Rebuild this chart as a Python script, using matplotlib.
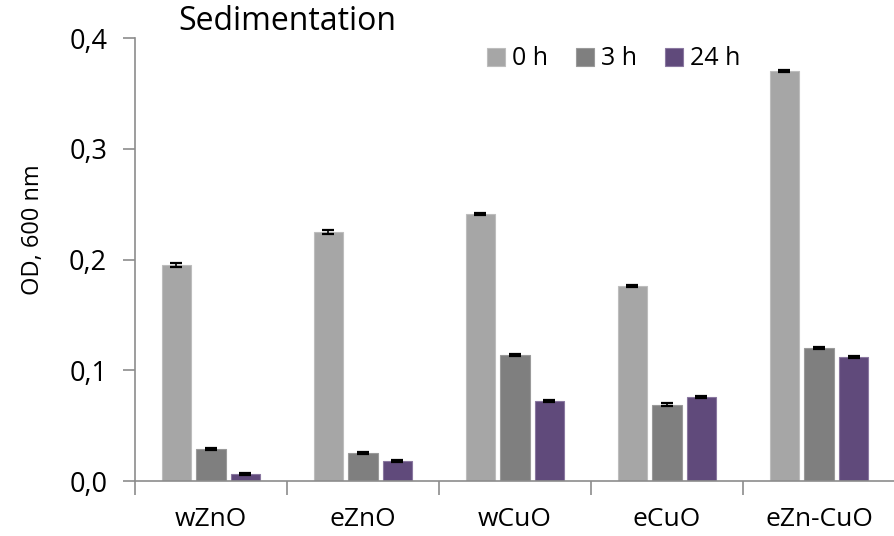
import matplotlib.pyplot as plt
import numpy as np

plt.rcParams['font.family'] = ['Open Sans', 'DejaVu Sans']

samples = ["wZnO", "eZnO", "wCuO", "eCuO", "eZn-CuO"]
series = ["0 h", "3 h", "24 h"]
od_0h = [0.195, 0.225, 0.241, 0.176, 0.370]
od_3h = [0.029, 0.025, 0.114, 0.069, 0.120]
od_24h = [0.006, 0.018, 0.072, 0.076, 0.112]
err_0h = [0.002, 0.0015, 0.001, 0.001, 0.001]
err_3h = [0.001, 0.001, 0.001, 0.001, 0.001]
err_24h = [0.001, 0.001, 0.001, 0.001, 0.001]

colors = ["#A6A6A6", "#7F7F7F", "#604A7B"]
edges = ["#BDBDBD", "#9A9A9A", "#8A78A0"]

fig = plt.figure(figsize=(8.95, 5.36), dpi=100)
ax = fig.add_axes([0.1508, 0.1026, 0.8492, 0.8264])

x = np.arange(len(samples))
step = 0.227
width = 0.195
for i, (vals, errs) in enumerate(zip([od_0h, od_3h, od_24h], [err_0h, err_3h, err_24h])):
    ax.bar(x + (i - 1) * step, vals, width, color=colors[i], edgecolor=edges[i],
           linewidth=0.8, label=series[i],
           yerr=errs, error_kw=dict(ecolor="black", elinewidth=1.2, capsize=4.3, capthick=1.6))

ax.set_xlim(-0.5, 4.5)
ax.set_ylim(0, 0.4)
ax.set_yticks([0, 0.1, 0.2, 0.3, 0.4])
ax.set_yticklabels(["0,0", "0,1", "0,2", "0,3", "0,4"])

# boundary ticks between groups, labels centred on groups
ax.set_xticks(np.arange(-0.5, 5.0, 1.0))
ax.set_xticklabels([])
ax.set_xticks(x, minor=True)
ax.set_xticklabels(samples, minor=True)
ax.tick_params(axis="x", which="minor", length=0, pad=19, labelsize=19)
ax.tick_params(axis="x", which="major", length=10, color="#8C8C8C", width=1.2)
ax.tick_params(axis="y", length=9, color="#8C8C8C", width=1.2, labelsize=19.5, pad=11)

for side in ["top", "right"]:
    ax.spines[side].set_visible(False)
for side in ["left", "bottom"]:
    ax.spines[side].set_color("#8C8C8C")
    ax.spines[side].set_linewidth(1.2)

ax.set_ylabel("OD, 600 nm", fontsize=17, va="center")
ax.yaxis.set_label_coords(-0.134, 0.567)
fig.text(0.199, 0.944, "Sedimentation", fontsize=23, va="baseline", ha="left")

ax.legend(loc="center left", bbox_to_anchor=(0.463, 0.953), ncol=3, frameon=False,
          fontsize=18, handlelength=0.72, handleheight=0.72, handletextpad=0.3,
          columnspacing=1.1, borderpad=0, borderaxespad=0)

fig.savefig("out.png", dpi=100)
